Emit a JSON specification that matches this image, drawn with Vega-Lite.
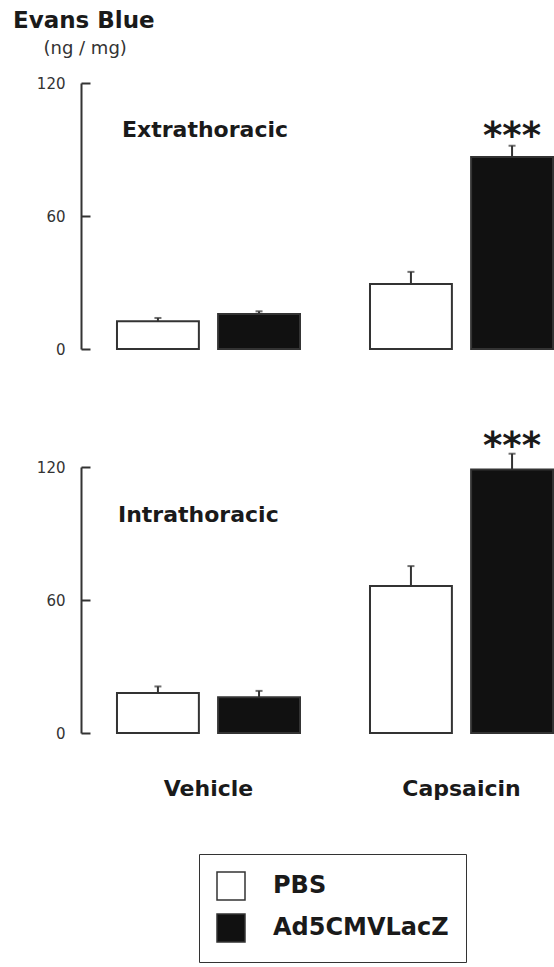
{
  "$schema": "https://vega.github.io/schema/vega-lite/v6.json",
  "usermeta": {"embedOptions": {"actions": false}},
  "background": "white",
  "padding": {"left": 13, "top": 10, "right": 0, "bottom": 0},
  "title": {
    "text": "Evans Blue",
    "anchor": "start",
    "frame": "group",
    "orient": "top",
    "baseline": "alphabetic",
    "dx": -68,
    "offset": -12,
    "font": "DejaVu Sans",
    "fontSize": 23,
    "fontWeight": "bold",
    "color": "#1a1a1a"
  },
  "data": {
    "values": [
      {"region": "Extrathoracic", "condition": "Vehicle", "treatment": "PBS", "mean": 12.5, "upper": 14.0, "sig": ""},
      {"region": "Extrathoracic", "condition": "Vehicle", "treatment": "Ad5CMVLacZ", "mean": 15.8, "upper": 17.0, "sig": ""},
      {"region": "Extrathoracic", "condition": "Capsaicin", "treatment": "PBS", "mean": 29.3, "upper": 34.8, "sig": ""},
      {"region": "Extrathoracic", "condition": "Capsaicin", "treatment": "Ad5CMVLacZ", "mean": 86.6, "upper": 91.7, "sig": "***"},
      {"region": "Intrathoracic", "condition": "Vehicle", "treatment": "PBS", "mean": 18.0, "upper": 21.0, "sig": ""},
      {"region": "Intrathoracic", "condition": "Vehicle", "treatment": "Ad5CMVLacZ", "mean": 16.1, "upper": 19.0, "sig": ""},
      {"region": "Intrathoracic", "condition": "Capsaicin", "treatment": "PBS", "mean": 66.3, "upper": 75.3, "sig": ""},
      {"region": "Intrathoracic", "condition": "Capsaicin", "treatment": "Ad5CMVLacZ", "mean": 118.9, "upper": 126.0, "sig": "***"}
    ]
  },
  "bounds": "flush",
  "spacing": 118,
  "vconcat": [
    {
      "width": 472,
      "height": 266,
      "title": {
        "text": "Extrathoracic",
        "anchor": "start",
        "frame": "group",
        "orient": "top",
        "baseline": "alphabetic",
        "dx": 41,
        "dy": 120,
        "offset": 0,
        "font": "DejaVu Sans",
        "fontSize": 22,
        "fontWeight": "bold",
        "color": "#1a1a1a"
      },
      "transform": [{"filter": "datum.region === 'Extrathoracic'"}],
      "encoding": {
        "x": {
          "field": "condition",
          "type": "nominal",
          "sort": ["Vehicle", "Capsaicin"],
          "scale": {"paddingInner": 0.2767, "paddingOuter": 0.0711, "align": 1},
          "axis": null
        },
        "xOffset": {
          "field": "treatment",
          "type": "nominal",
          "sort": ["PBS", "Ad5CMVLacZ"],
          "scale": {"paddingInner": 0.19, "paddingOuter": 0}
        },
        "y": {
          "field": "mean",
          "type": "quantitative",
          "scale": {"domain": [0, 120], "nice": false},
          "axis": {
            "values": [0, 60, 120],
            "title": "(ng / mg)",
            "titleAngle": 0,
            "titleAlign": "left",
            "titleBaseline": "alphabetic",
            "titleX": -38,
            "titleY": -30,
            "titleFont": "DejaVu Sans",
            "titleFontSize": 18,
            "titleFontWeight": "normal",
            "titleColor": "#333"
          }
        }
      },
      "layer": [
        {
          "mark": {"type": "bar", "stroke": "#333", "strokeWidth": 2},
          "encoding": {
            "fill": {
              "field": "treatment",
              "type": "nominal",
              "scale": {"domain": ["PBS", "Ad5CMVLacZ"], "range": ["#ffffff", "#111111"]},
              "legend": {
                "orient": "none",
                "legendX": 118,
                "legendY": 771,
                "direction": "vertical",
                "title": null,
                "padding": 17,
                "strokeColor": "#333",
                "symbolType": "square",
                "symbolSize": 784,
                "symbolStrokeColor": "#222",
                "symbolStrokeWidth": 1.5,
                "symbolOpacity": 1,
                "rowPadding": 8,
                "labelOffset": 27,
                "labelLimit": 400,
                "labelFont": "DejaVu Sans",
                "labelFontSize": 24,
                "labelFontWeight": "bold",
                "labelColor": "#1a1a1a"
              }
            }
          }
        },
        {
          "mark": {"type": "rule", "color": "#333", "strokeWidth": 2},
          "encoding": {"y2": {"field": "upper"}}
        },
        {
          "mark": {"type": "tick", "orient": "horizontal", "size": 7, "thickness": 2, "color": "#333"},
          "encoding": {
            "y": {
              "field": "upper",
              "type": "quantitative",
              "axis": {
                "values": [0, 60, 120],
                "title": "(ng / mg)",
                "titleAngle": 0,
                "titleAlign": "left",
                "titleBaseline": "alphabetic",
                "titleX": -38,
                "titleY": -30,
                "titleFont": "DejaVu Sans",
                "titleFontSize": 18,
                "titleFontWeight": "normal",
                "titleColor": "#333"
              }
            }
          }
        },
        {
          "transform": [{"filter": "datum.sig !== ''"}],
          "mark": {"type": "text", "font": "DejaVu Sans", "fontSize": 37, "fontWeight": "bold", "baseline": "alphabetic", "align": "center", "dy": 2, "color": "#1a1a1a"},
          "encoding": {
            "y": {
              "field": "upper",
              "type": "quantitative",
              "axis": {
                "values": [0, 60, 120],
                "title": "(ng / mg)",
                "titleAngle": 0,
                "titleAlign": "left",
                "titleBaseline": "alphabetic",
                "titleX": -38,
                "titleY": -30,
                "titleFont": "DejaVu Sans",
                "titleFontSize": 18,
                "titleFontWeight": "normal",
                "titleColor": "#333"
              }
            },
            "text": {"field": "sig"}
          }
        }
      ]
    },
    {
      "width": 472,
      "height": 266,
      "title": {
        "text": "Intrathoracic",
        "anchor": "start",
        "frame": "group",
        "orient": "top",
        "baseline": "alphabetic",
        "dx": 37,
        "dy": 116,
        "offset": 0,
        "font": "DejaVu Sans",
        "fontSize": 22,
        "fontWeight": "bold",
        "color": "#1a1a1a"
      },
      "transform": [{"filter": "datum.region === 'Intrathoracic'"}],
      "encoding": {
        "x": {
          "field": "condition",
          "type": "nominal",
          "sort": ["Vehicle", "Capsaicin"],
          "scale": {"paddingInner": 0.2767, "paddingOuter": 0.0711, "align": 1},
          "axis": {
            "title": null,
            "domain": false,
            "ticks": false,
            "labelAngle": 0,
            "labelPadding": 45,
            "labelFont": "DejaVu Sans",
            "labelFontSize": 22,
            "labelFontWeight": "bold",
            "labelColor": "#1a1a1a"
          }
        },
        "xOffset": {
          "field": "treatment",
          "type": "nominal",
          "sort": ["PBS", "Ad5CMVLacZ"],
          "scale": {"paddingInner": 0.19, "paddingOuter": 0}
        },
        "y": {
          "field": "mean",
          "type": "quantitative",
          "scale": {"domain": [0, 120], "nice": false},
          "axis": {"values": [0, 60, 120], "title": null}
        }
      },
      "layer": [
        {
          "mark": {"type": "bar", "stroke": "#333", "strokeWidth": 2},
          "encoding": {
            "fill": {
              "field": "treatment",
              "type": "nominal",
              "scale": {"domain": ["PBS", "Ad5CMVLacZ"], "range": ["#ffffff", "#111111"]}
            }
          }
        },
        {
          "mark": {"type": "rule", "color": "#333", "strokeWidth": 2},
          "encoding": {"y2": {"field": "upper"}}
        },
        {
          "mark": {"type": "tick", "orient": "horizontal", "size": 7, "thickness": 2, "color": "#333"},
          "encoding": {
            "y": {"field": "upper", "type": "quantitative", "axis": {"values": [0, 60, 120], "title": null}}
          }
        },
        {
          "transform": [{"filter": "datum.sig !== ''"}],
          "mark": {"type": "text", "font": "DejaVu Sans", "fontSize": 37, "fontWeight": "bold", "baseline": "alphabetic", "align": "center", "dy": 4, "color": "#1a1a1a"},
          "encoding": {
            "y": {"field": "upper", "type": "quantitative", "axis": {"values": [0, 60, 120], "title": null}},
            "text": {"field": "sig"}
          }
        }
      ]
    }
  ],
  "resolve": {"scale": {"fill": "shared"}},
  "config": {
    "view": {"stroke": null},
    "axis": {
      "grid": false,
      "domainColor": "#333",
      "domainWidth": 2,
      "tickColor": "#333",
      "tickWidth": 2,
      "tickSize": -9,
      "labelPadding": 25,
      "labelFont": "DejaVu Sans",
      "labelFontSize": 15,
      "labelColor": "#333"
    }
  }
}
